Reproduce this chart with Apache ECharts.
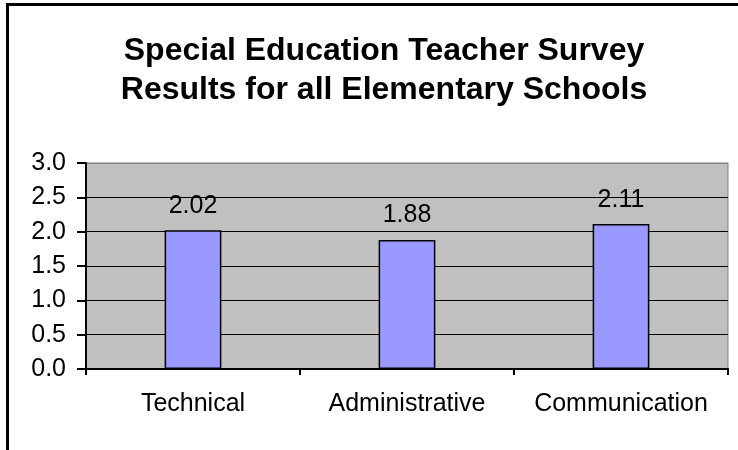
<!DOCTYPE html>
<html>
<head>
<meta charset="utf-8">
<style>
  html, body { margin: 0; padding: 0; background: #fff; }
  #chart { width: 738px; height: 450px; }
</style>
<script src="https://cdn.jsdelivr.net/npm/echarts@6/dist/echarts.min.js"></script>
</head>
<body>
<div id="chart"></div>
<script>
// Survey categories and their mean scores
const categories = ['Technical', 'Administrative', 'Communication'];
const scores = [2.02, 1.88, 2.11];

// Value axis range
const yMin = 0;
const yMax = 3;
const yStep = 0.5;

const titleLines = ['Special Education Teacher Survey', 'Results for all Elementary Schools'];

const FONT = 'Liberation Sans, Arial, sans-serif';

const chart = echarts.init(document.getElementById('chart'), null, { renderer: 'canvas' });

chart.setOption({
  backgroundColor: '#ffffff',
  animation: false,
  title: {
    text: titleLines.join('\n'),
    left: 379,
    top: 27,
    textAlign: 'center',
    textStyle: {
      fontFamily: FONT,
      fontSize: 32,
      fontWeight: 'bold',
      color: '#000',
      lineHeight: 39
    }
  },
  graphic: [{
    type: 'rect',
    left: 5,
    top: 2,
    shape: { width: 760, height: 480 },
    style: { fill: 'none', stroke: '#000', lineWidth: 3 },
    silent: true,
    z: 100
  }],
  grid: {
    left: 86,
    right: 10,
    top: 163,
    bottom: 81,
    show: true,
    backgroundColor: '#c0c0c0',
    borderColor: '#808080',
    borderWidth: 1
  },
  xAxis: {
    type: 'category',
    data: categories,
    axisLine: { show: true, lineStyle: { color: '#000', width: 2 } },
    axisTick: { show: true, interval: 0, alignWithLabel: false, length: 6, lineStyle: { color: '#000', width: 2 } },
    axisLabel: {
      interval: 0,
      margin: 23,
      fontFamily: FONT,
      fontSize: 25,
      color: '#000'
    },
    splitLine: { show: false }
  },
  yAxis: {
    type: 'value',
    min: yMin,
    max: yMax,
    interval: yStep,
    axisLine: { show: true, lineStyle: { color: '#000', width: 2 } },
    axisTick: { show: true, inside: false, length: 9, lineStyle: { color: '#000', width: 2 } },
    axisLabel: {
      margin: 20,
      fontFamily: FONT,
      fontSize: 25,
      color: '#000',
      formatter: v => v.toFixed(1)
    },
    splitLine: {
      show: true,
      lineStyle: {
        color: ['#000', '#000', '#000', '#000', '#000', '#000', '#808080'],
        width: 1
      }
    }
  },
  series: [{
    type: 'bar',
    data: scores,
    barWidth: '26.5%',
    itemStyle: {
      color: '#9999ff',
      borderColor: '#000',
      borderWidth: 1.5
    },
    label: {
      show: true,
      position: 'top',
      distance: 12,
      fontFamily: FONT,
      fontSize: 25,
      color: '#000',
      formatter: p => p.value.toFixed(2)
    }
  }]
});
</script>
</body>
</html>
